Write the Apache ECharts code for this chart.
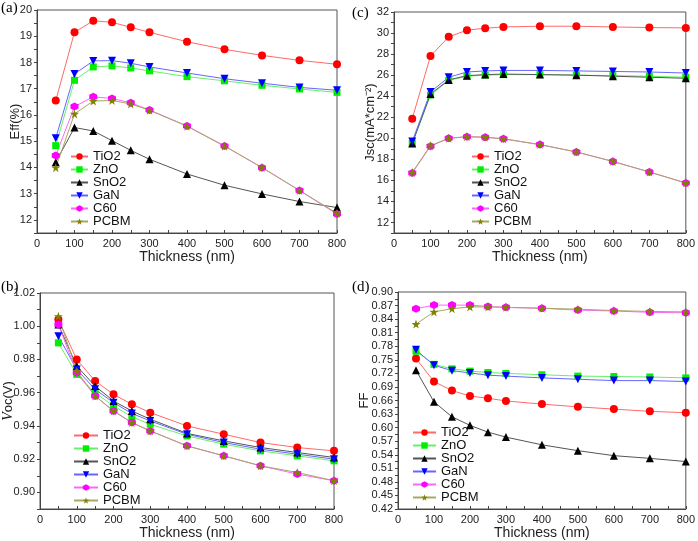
<!DOCTYPE html>
<html>
<head>
<meta charset="utf-8">
<script src="https://cdn.jsdelivr.net/npm/echarts@6/dist/echarts.min.js"></script>
<style>html,body{margin:0;padding:0;background:#fff}#c{width:698px;height:541px}</style>
</head>
<body>
<div id="c"></div>
<script>
// ---- data ----
var thickness = [50,100,150,200,250,300,400,500,600,700,800];
var materials = ['TiO2','ZnO','SnO2','GaN','C60','PCBM'];

// (a) Efficiency (%)
var effTiO2 = [16.55,19.15,19.59,19.53,19.34,19.15,18.79,18.50,18.27,18.08,17.93];
var effZnO  = [14.83,17.32,17.83,17.87,17.79,17.68,17.46,17.30,17.13,16.99,16.86];
var effSnO2 = [14.20,15.52,15.39,15.02,14.65,14.31,13.75,13.32,12.99,12.70,12.47];
var effGaN  = [15.11,17.56,18.06,18.07,17.97,17.83,17.60,17.38,17.21,17.05,16.94];
var effC60  = [14.45,16.32,16.69,16.63,16.46,16.19,15.58,14.82,13.99,13.12,12.22];
var effPCBM = [13.99,16.04,16.53,16.55,16.42,16.18,15.57,14.81,14.00,13.12,12.25];

// (c) Jsc (mA/cm2)
var jscTiO2 = [21.86,27.81,29.64,30.27,30.46,30.58,30.65,30.65,30.58,30.52,30.49];
var jscZnO  = [19.50,24.10,25.50,25.90,26.00,26.05,26.05,26.00,25.95,25.90,25.80];
var jscSnO2 = [19.50,24.20,25.55,25.95,26.05,26.10,26.05,26.00,25.90,25.80,25.70];
var jscGaN  = [19.70,24.40,25.80,26.30,26.40,26.45,26.45,26.40,26.35,26.30,26.20];
var jscC60  = [16.70,19.25,20.00,20.15,20.10,19.95,19.40,18.70,17.80,16.80,15.75];
var jscPCBM = [16.75,19.30,20.00,20.15,20.10,19.95,19.40,18.70,17.80,16.80,15.75];

// (b) Voc (V)
var vocTiO2 = [1.004,0.980,0.967,0.959,0.953,0.948,0.940,0.935,0.930,0.927,0.925];
var vocZnO  = [0.990,0.971,0.960,0.952,0.9455,0.941,0.934,0.929,0.925,0.922,0.919];
var vocSnO2 = [1.001,0.976,0.964,0.955,0.949,0.944,0.9355,0.931,0.927,0.924,0.921];
var vocGaN  = [0.994,0.974,0.962,0.954,0.9475,0.943,0.935,0.930,0.926,0.923,0.920];
var vocC60  = [1.001,0.972,0.958,0.949,0.942,0.937,0.928,0.922,0.916,0.911,0.907];
var vocPCBM = [1.006,0.973,0.958,0.949,0.942,0.937,0.928,0.922,0.916,0.912,0.907];

// (d) FF
var ffTiO2 = [0.753,0.702,0.682,0.670,0.665,0.659,0.652,0.646,0.641,0.636,0.633];
var ffZnO  = [0.769,0.740,0.730,0.725,0.722,0.720,0.717,0.714,0.713,0.712,0.710];
var ffSnO2 = [0.727,0.657,0.624,0.605,0.590,0.579,0.562,0.549,0.538,0.532,0.525];
var ffGaN  = [0.772,0.738,0.726,0.721,0.716,0.714,0.710,0.707,0.704,0.704,0.702];
var ffC60  = [0.863,0.871,0.871,0.871,0.868,0.866,0.864,0.860,0.858,0.855,0.854];
var ffPCBM = [0.829,0.856,0.863,0.867,0.867,0.866,0.864,0.862,0.859,0.857,0.856];

// ---- styles ----
var colors = {TiO2:'#ff0000', ZnO:'#00ee00', SnO2:'#000000', GaN:'#0000ff', C60:'#ff00ff', PCBM:'#808000'};
var lineColors = {TiO2:'#ff6a6a', ZnO:'#66f066', SnO2:'#555555', GaN:'#6666ff', C60:'#ff66ff', PCBM:'#a8a860'};
var symbols = {
  TiO2:'circle', ZnO:'rect', SnO2:'triangle',
  GaN:'path://M0,0 L10,0 L5,9 Z',
  C60:'path://M5,0 L9.3,2.5 L9.3,7.5 L5,10 L0.7,7.5 L0.7,2.5 Z',
  PCBM:'path://M5,0 L6.2,3.6 L10,3.6 L6.9,5.9 L8.1,9.6 L5,7.3 L1.9,9.6 L3.1,5.9 L0,3.6 L3.8,3.6 Z'
};
var sizes = {TiO2:8, ZnO:7, SnO2:8, GaN:8, C60:8, PCBM:9};

var panels = [
  {key:'a', data:[effTiO2,effZnO,effSnO2,effGaN,effC60,effPCBM], grid:{left:37,top:10,width:300,height:223},
   min:11.5, max:20, interval:0.5, fmt:function(v){return Math.abs(v-Math.round(v))<1e-6?String(Math.round(v)):'';},
   name:'Eff(%)', nameGap:15, legend:{left:65,top:145, itemWidth:17}},
  {key:'c', data:[jscTiO2,jscZnO,jscSnO2,jscGaN,jscC60,jscPCBM], grid:{left:394,top:12,width:298,height:221},
   min:11, max:32, interval:1, fmt:function(v){var r=Math.round(v);return (Math.abs(v-r)<1e-6 && r%2===0)?String(r):'';},
   name:'Jsc(mA*cm⁻²)', nameGap:17, legend:{left:466,top:145, itemWidth:17}},
  {key:'b', data:[vocTiO2,vocZnO,vocSnO2,vocGaN,vocC60,vocPCBM], grid:{left:40,top:293,width:294,height:217},
   min:0.89, max:1.02, interval:0.01, fmt:function(v){var r=Math.round(v*100);return r%2===0?(r/100).toFixed(2):'';},
   name:'{i|V}{n|oc(V)}', nameGap:25, legend:{left:68,top:424, itemWidth:24}},
  {key:'d', data:[ffTiO2,ffZnO,ffSnO2,ffGaN,ffC60,ffPCBM], grid:{left:398,top:292,width:294,height:219},
   min:0.42, max:0.90, interval:0.015, fmt:function(v){var k=(v-0.42)/0.03;return Math.abs(k-Math.round(k))<1e-6?v.toFixed(2):'';},
   name:'FF', nameGap:27, legend:{left:407,top:421, itemWidth:23}}
];

var font = 'Liberation Sans, Arial, sans-serif';
var option = {
  animation:false,
  backgroundColor:'#fff',
  grid:[], xAxis:[], yAxis:[], series:[], legend:[],
  graphic:[
    {type:'text', left:1, top:1, style:{text:'(a)', font:'15px "Liberation Serif"', fill:'#000'}},
    {type:'text', left:352, top:6, style:{text:'(c)', font:'15px "Liberation Serif"', fill:'#000'}},
    {type:'text', left:1, top:280, style:{text:'(b)', font:'15px "Liberation Serif"', fill:'#000'}},
    {type:'text', left:352, top:280, style:{text:'(d)', font:'15px "Liberation Serif"', fill:'#000'}}
  ]
};

panels.forEach(function(p, gi){
  option.grid.push(Object.assign({show:true, borderColor:'#555', borderWidth:1, containLabel:false}, p.grid));
  option.xAxis.push({
    gridIndex:gi, type:'value', min:0, max:800, interval:50,
    name:'Thickness (nm)', nameLocation:'middle', nameGap:17, nameMoveOverlap:false,
    nameTextStyle:{fontFamily:font, fontSize:14, color:'#222'},
    axisLine:{show:true, lineStyle:{color:'#444', width:1}},
    axisTick:{show:true, inside:true, length:3, lineStyle:{color:'#444'}},
    axisLabel:{fontFamily:font, fontSize:11, color:'#222', margin:5,
      formatter:function(v){return v%100===0?String(v):'';}},
    splitLine:{show:false}
  });
  option.yAxis.push({
    gridIndex:gi, type:'value', min:p.min, max:p.max, interval:p.interval,
    name:p.name, nameLocation:'middle', nameGap:p.nameGap, nameRotate:90, nameMoveOverlap:false,
    nameTextStyle:{fontFamily:font, fontSize:13, color:'#222',
      rich:{i:{fontFamily:'Liberation Serif', fontStyle:'italic', fontSize:14, color:'#222'}, n:{fontFamily:font, fontSize:13, color:'#222'}}},
    axisLine:{show:true, lineStyle:{color:'#444', width:1}},
    axisTick:{show:true, inside:false, length:3, lineStyle:{color:'#444'}},
    axisLabel:{fontFamily:font, fontSize:11, color:'#222', margin:5, formatter:p.fmt, showMinLabel:true, showMaxLabel:true},
    splitLine:{show:false}
  });
  var names = [];
  materials.forEach(function(m, si){
    names.push(m);
    option.series.push({
      name:m, type:'line', xAxisIndex:gi, yAxisIndex:gi,
      data:thickness.map(function(t, i){return [t, p.data[si][i]];}),
      symbol:symbols[m], symbolSize:sizes[m], showAllSymbol:true,
      itemStyle:{color:colors[m]},
      lineStyle:{color:lineColors[m], width:1},
      emphasis:{disabled:true}
    });
  });
  option.legend.push({
    orient:'vertical', left:p.legend.left, top:p.legend.top,
    itemWidth:p.legend.itemWidth, itemHeight:8, itemGap:0,
    textStyle:{fontFamily:font, fontSize:13, lineHeight:13, color:'#111'},
    data:names, selectedMode:false
  });
});

var chart = echarts.init(document.getElementById('c'), null, {renderer:'canvas'});
chart.setOption(option);
</script>
</body>
</html>
